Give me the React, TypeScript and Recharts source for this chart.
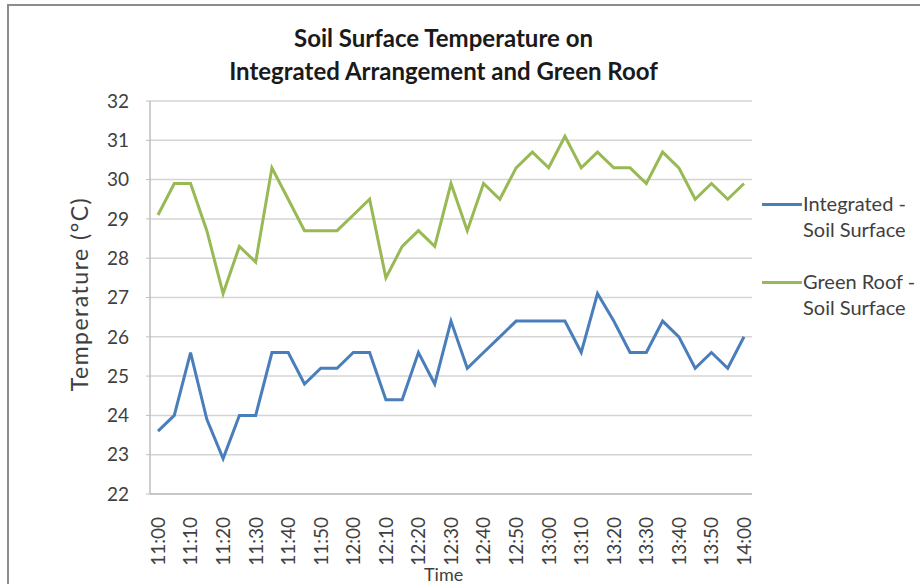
import React from 'react';
import { LineChart, Line, XAxis, YAxis, CartesianGrid } from 'recharts';

// readings every 5 minutes, 11:00 - 14:00
const times = [
  '11:00', '11:05', '11:10', '11:15', '11:20', '11:25', '11:30', '11:35', '11:40', '11:45',
  '11:50', '11:55', '12:00', '12:05', '12:10', '12:15', '12:20', '12:25', '12:30', '12:35',
  '12:40', '12:45', '12:50', '12:55', '13:00', '13:05', '13:10', '13:15', '13:20', '13:25',
  '13:30', '13:35', '13:40', '13:45', '13:50', '13:55', '14:00',
];

const integrated = [
  23.6, 24.0, 25.6, 23.9, 22.9, 24.0, 24.0, 25.6, 25.6, 24.8,
  25.2, 25.2, 25.6, 25.6, 24.4, 24.4, 25.6, 24.8, 26.4, 25.2,
  25.6, 26.0, 26.4, 26.4, 26.4, 26.4, 25.6, 27.1, 26.4, 25.6,
  25.6, 26.4, 26.0, 25.2, 25.6, 25.2, 26.0,
];

const greenRoof = [
  29.1, 29.9, 29.9, 28.7, 27.1, 28.3, 27.9, 30.3, 29.5, 28.7,
  28.7, 28.7, 29.1, 29.5, 27.5, 28.3, 28.7, 28.3, 29.9, 28.7,
  29.9, 29.5, 30.3, 30.7, 30.3, 31.1, 30.3, 30.7, 30.3, 30.3,
  29.9, 30.7, 30.3, 29.5, 29.9, 29.5, 29.9,
];

const yTicks = [22, 23, 24, 25, 26, 27, 28, 29, 30, 31, 32];

const BLUE = '#4a7ebb';
const GREEN = '#98b954';
const FONT = 'Lato, "Open Sans", sans-serif';
const TEXT = '#404040';

const data = times.map((t, i) => ({ time: t, integrated: integrated[i], green: greenRoof[i] }));

const TimeTick = ({ x, y, payload }: any) => (
  <text
    transform={`translate(${x}, ${y + 15}) rotate(-90)`}
    textAnchor="end"
    dy="0.36em"
    fontSize={19}
    fontFamily={FONT}
    fill={TEXT}
  >
    {payload.value}
  </text>
);

const legendItems = [
  { color: BLUE, lines: ['Integrated -', 'Soil Surface'], top: 190 },
  { color: GREEN, lines: ['Green Roof -', 'Soil Surface'], top: 268 },
];

export default function App() {
  return (
    <div style={{ position: 'absolute', left: 0, top: 0, width: 920, height: 584, background: '#fff', overflow: 'hidden', fontFamily: FONT }}>
      {/* chart frame */}
      <div style={{ position: 'absolute', left: 7, top: 4, width: 940, height: 600, borderLeft: '2px solid #8c8c8c', borderTop: '2px solid #8c8c8c' }} />

      <div style={{ position: 'absolute', left: 0, top: 21, width: 887, textAlign: 'center', fontSize: 24, fontWeight: 700, color: '#1a1a1a', lineHeight: '33px' }}>
        Soil Surface Temperature on<br />Integrated Arrangement and Green Roof
      </div>

      <LineChart width={920} height={584} data={data} margin={{ top: 101, right: 168, bottom: 0, left: 0 }}>
        <CartesianGrid vertical={false} stroke="#d4d4d4" strokeWidth={1.5} />
        <XAxis
          dataKey="time"
          interval={1}
          height={90}
          padding={{ left: 8, right: 8 }}
          tickLine={false}
          axisLine={{ stroke: '#bfbfbf', strokeWidth: 1.5 }}
          tick={<TimeTick />}
        />
        <YAxis
          width={150}
          domain={[22, 32]}
          ticks={yTicks}
          interval={0}
          tickSize={4}
          tickMargin={17}
          tickLine={{ stroke: '#bfbfbf' }}
          axisLine={{ stroke: '#bfbfbf', strokeWidth: 1.5 }}
          tick={{ fontSize: 19, fill: TEXT, fontFamily: FONT }}
        />
        <Line dataKey="integrated" stroke={BLUE} strokeWidth={3} dot={false} isAnimationActive={false} />
        <Line dataKey="green" stroke={GREEN} strokeWidth={3} dot={false} isAnimationActive={false} />
      </LineChart>

      <div style={{ position: 'absolute', left: 79, top: 294, transform: 'translate(-50%, -50%) rotate(-90deg)', fontSize: 23, letterSpacing: 1.5, color: TEXT, whiteSpace: 'nowrap' }}>
        Temperature (°C)
      </div>

      <div style={{ position: 'absolute', left: 424, top: 563, fontSize: 18, color: TEXT }}>Time</div>

      {legendItems.map((item) => (
        <div key={item.lines[0]} style={{ position: 'absolute', left: 762, top: item.top, display: 'flex', alignItems: 'flex-start' }}>
          <div style={{ width: 40, height: 3, background: item.color, marginTop: 13 }} />
          <div style={{ marginLeft: 1, fontSize: 20, lineHeight: '26px', color: TEXT, whiteSpace: 'nowrap' }}>
            {item.lines[0]}<br />{item.lines[1]}
          </div>
        </div>
      ))}
    </div>
  );
}
